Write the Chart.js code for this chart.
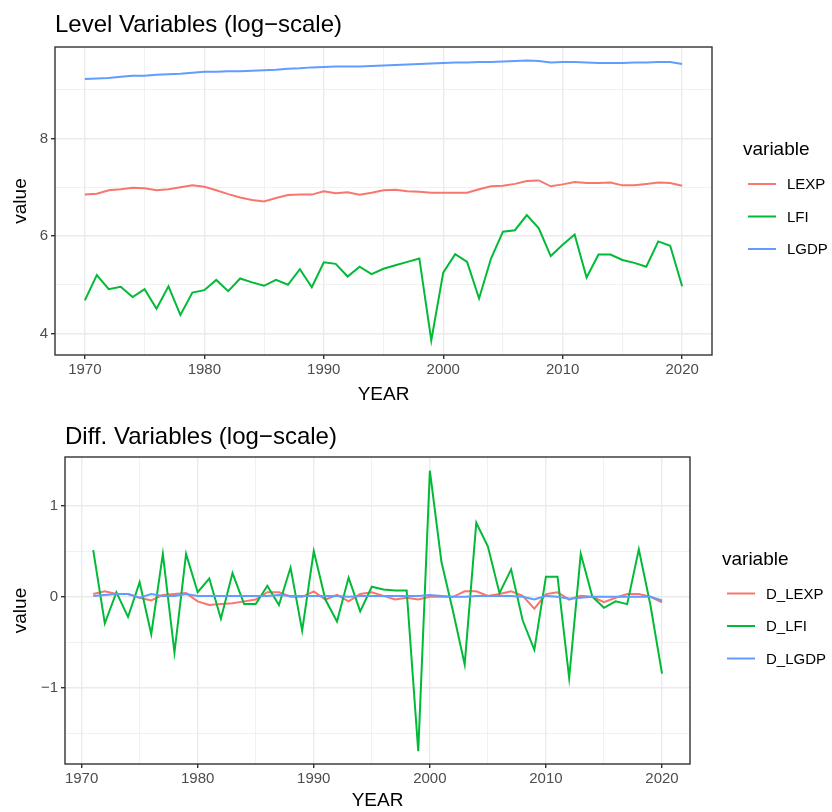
<!DOCTYPE html>
<html>
<head>
<meta charset="utf-8">
<script src="https://cdn.jsdelivr.net/npm/chart.js@4/dist/chart.umd.min.js"></script>
<style>
  html, body { margin: 0; padding: 0; background: #ffffff; }
  #wrap { position: relative; width: 832px; height: 812px; }
  .box { position: absolute; left: 0; width: 832px; height: 406px; }
</style>
</head>
<body>
<div id="wrap">
  <div class="box" style="top:0"><canvas id="c1" width="832" height="406"></canvas></div>
  <div class="box" style="top:406px"><canvas id="c2" width="832" height="406"></canvas></div>
</div>
<script>
// ---------- data ----------
const years = [1970,1971,1972,1973,1974,1975,1976,1977,1978,1979,1980,1981,1982,1983,1984,1985,1986,1987,1988,1989,
  1990,1991,1992,1993,1994,1995,1996,1997,1998,1999,2000,2001,2002,2003,2004,2005,2006,2007,2008,2009,
  2010,2011,2012,2013,2014,2015,2016,2017,2018,2019,2020];
const LEXP = [6.85,6.87,6.94,6.96,6.99,6.98,6.94,6.96,7.00,7.04,7.01,6.94,6.86,6.79,6.74,6.71,6.78,6.84,6.85,6.85,
  6.92,6.88,6.90,6.85,6.89,6.94,6.95,6.92,6.91,6.89,6.89,6.89,6.89,6.96,7.02,7.03,7.07,7.13,7.14,7.02,
  7.06,7.11,7.09,7.09,7.10,7.04,7.04,7.07,7.10,7.09,7.03];
const LFI = [4.68,5.20,4.91,4.96,4.75,4.91,4.51,4.97,4.38,4.84,4.89,5.10,4.87,5.13,5.05,4.98,5.10,5.00,5.32,4.95,
  5.46,5.43,5.17,5.37,5.22,5.33,5.40,5.47,5.54,3.86,5.25,5.63,5.47,4.72,5.54,6.09,6.12,6.43,6.16,5.59,
  5.82,6.03,5.15,5.62,5.62,5.51,5.45,5.37,5.89,5.80,4.97];
const LGDP = [9.22,9.23,9.24,9.27,9.29,9.29,9.31,9.32,9.33,9.35,9.37,9.37,9.38,9.38,9.39,9.40,9.41,9.43,9.44,9.46,
  9.47,9.48,9.48,9.48,9.49,9.50,9.51,9.52,9.53,9.54,9.55,9.56,9.56,9.57,9.57,9.58,9.59,9.60,9.59,9.56,
  9.57,9.57,9.56,9.55,9.55,9.55,9.56,9.56,9.57,9.57,9.53];

const diffYears = [1971,1972,1973,1974,1975,1976,1977,1978,1979,1980,1981,1982,1983,1984,1985,1986,1987,1988,1989,
  1990,1991,1992,1993,1994,1995,1996,1997,1998,1999,2000,2001,2002,2003,2004,2005,2006,2007,2008,2009,
  2010,2011,2012,2013,2014,2015,2016,2017,2018,2019,2020];
const D_LEXP = [0.03,0.06,0.03,0.03,-0.01,-0.04,0.02,0.03,0.04,-0.05,-0.09,-0.08,-0.07,-0.05,-0.03,0.05,0.05,0.00,0.00,
  0.06,-0.03,0.02,-0.05,0.03,0.05,0.01,-0.03,-0.01,-0.03,0.00,0.00,0.00,0.06,0.06,0.01,0.03,0.06,0.01,-0.13,
  0.03,0.05,-0.03,0.01,0.00,-0.06,-0.01,0.03,0.03,0.00,-0.06];
const D_LFI = [0.51,-0.29,0.05,-0.22,0.16,-0.41,0.47,-0.61,0.47,0.05,0.20,-0.24,0.26,-0.08,-0.08,0.12,-0.09,0.32,-0.37,
  0.50,-0.03,-0.27,0.21,-0.16,0.11,0.08,0.07,0.07,-1.69,1.38,0.38,-0.16,-0.74,0.81,0.55,0.04,0.30,-0.26,-0.58,
  0.22,0.22,-0.89,0.47,0.00,-0.12,-0.05,-0.08,0.52,-0.09,-0.84];
const D_LGDP = [0.01,0.02,0.03,0.03,-0.01,0.03,0.01,0.01,0.03,0.01,0.01,0.01,0.01,0.01,0.01,0.01,0.02,0.01,0.01,
  0.01,0.01,0.01,0.00,0.01,0.01,0.01,0.01,0.01,0.01,0.02,0.01,0.00,0.00,0.01,0.01,0.01,0.01,0.00,-0.03,
  0.01,0.00,-0.02,-0.01,0.00,0.00,0.00,0.00,0.00,0.00,-0.04];

const xTicks = [1970,1975,1980,1985,1990,1995,2000,2005,2010,2015,2020];
const yTicksTop = [4,5,6,7,8,9];
const yTicksBottom = [-1.5,-1,-0.5,0,0.5,1];
const topNames = ['LEXP','LFI','LGDP'];
const bottomNames = ['D_LEXP','D_LFI','D_LGDP'];
const colors = ['#F8766D','#00BA38','#619CFF'];

// ---------- helpers ----------
const FONT = "'Liberation Sans', Arial, Helvetica, sans-serif";
const pts = (xs, ys) => xs.map((x, i) => ({x: x, y: ys[i]}));
const isMajorX = v => v % 10 === 0;

const frame = {
  id: 'frame',
  afterDraw(chart, args, o) {
    const ctx = chart.ctx, a = chart.chartArea;
    ctx.save();
    ctx.strokeStyle = '#333333';
    ctx.lineWidth = 1.4;
    ctx.strokeRect(a.left, a.top, a.right - a.left, a.bottom - a.top);
    // title
    ctx.fillStyle = '#000000';
    ctx.font = '24px ' + FONT;
    ctx.textBaseline = 'middle';
    ctx.textAlign = 'left';
    ctx.fillText(o.title, a.left, a.top - o.titleGap);
    // legend
    const cy = (a.top + a.bottom) / 2;
    const lx = a.right + o.legendGap;
    ctx.font = '19px ' + FONT;
    ctx.fillText('variable', lx, cy - 51);
    ctx.font = '15px ' + FONT;
    o.names.forEach((n, i) => {
      const y = cy - 17 + i * 32.5;
      ctx.strokeStyle = colors[i];
      ctx.lineWidth = 2;
      ctx.beginPath();
      ctx.moveTo(lx + 5, y);
      ctx.lineTo(lx + 33, y);
      ctx.stroke();
      ctx.fillStyle = '#000000';
      ctx.fillText(n, lx + 44, y + 1);
    });
    ctx.restore();
  }
};

function makeChart(id, xs, series, names, yTicks, yMin, yMax, xMin, xMax, pad, yWidth, xHeight, opts) {
  const datasets = series.map((s, i) => ({
    label: names[i],
    data: pts(xs, s),
    borderColor: colors[i],
    borderWidth: 2,
    pointRadius: 0,
    tension: 0,
    fill: false,
    order: 3 - i
  }));
  return new Chart(document.getElementById(id), {
    type: 'line',
    data: { datasets: datasets },
    plugins: [frame],
    options: {
      responsive: false,
      animation: false,
      layout: { padding: pad },
      plugins: {
        legend: { display: false },
        tooltip: { enabled: false },
        frame: opts
      },
      scales: {
        x: {
          type: 'linear',
          min: xMin, max: xMax,
          afterBuildTicks: s => { s.ticks = xTicks.map(v => ({value: v})); },
          afterFit: s => { s.height = xHeight; },
          border: { display: false },
          grid: {
            color: '#ebebeb',
            lineWidth: c => (c.tick && isMajorX(c.tick.value)) ? 1.4 : 0.7,
            drawTicks: true,
            tickLength: 4,
            tickColor: c => (c.tick && isMajorX(c.tick.value)) ? '#333333' : 'rgba(0,0,0,0)',
            tickWidth: 1.4
          },
          ticks: {
            autoSkip: false, maxRotation: 0, padding: 2,
            color: '#4d4d4d',
            font: { family: FONT, size: 15 },
            callback: v => isMajorX(v) ? String(v) : ''
          },
          title: { display: true, text: 'YEAR', color: '#000000', font: { family: FONT, size: 19 }, padding: { top: 0, bottom: 0 } }
        },
        y: {
          type: 'linear',
          min: yMin, max: yMax,
          afterBuildTicks: s => { s.ticks = yTicks.map(v => ({value: v})); },
          afterFit: s => { s.width = yWidth; },
          border: { display: false },
          grid: {
            color: '#ebebeb',
            lineWidth: c => (c.tick && opts.isMajorY(c.tick.value)) ? 1.4 : 0.7,
            drawTicks: true,
            tickLength: 4,
            tickColor: c => (c.tick && opts.isMajorY(c.tick.value)) ? '#333333' : 'rgba(0,0,0,0)',
            tickWidth: 1.4
          },
          ticks: {
            autoSkip: false, padding: 3,
            color: '#4d4d4d',
            font: { family: FONT, size: 15 },
            callback: v => opts.isMajorY(v) ? (v < 0 ? '\u2212' + Math.abs(v) : String(v)) : ''
          },
          title: { display: true, text: 'value', color: '#000000', font: { family: FONT, size: 19 }, padding: { top: 9, bottom: 0 } }
        }
      }
    }
  });
}

makeChart('c1', years, [LEXP, LFI, LGDP], topNames, yTicksTop, 3.56, 9.878, 1967.5, 2022.5,
  { left: 0, top: 47, right: 120, bottom: 0 }, 55, 51,
  { title: 'Level Variables (log\u2212scale)', titleGap: 22, legendGap: 31, names: topNames,
    isMajorY: v => v % 2 === 0 });

makeChart('c2', diffYears, [D_LEXP, D_LFI, D_LGDP], bottomNames, yTicksBottom, -1.83, 1.53, 1968.57, 2022.41,
  { left: 0, top: 51, right: 142, bottom: 0 }, 65, 48,
  { title: 'Diff. Variables (log\u2212scale)', titleGap: 20, legendGap: 32, names: bottomNames,
    isMajorY: v => Number.isInteger(v) });
</script>
</body>
</html>
